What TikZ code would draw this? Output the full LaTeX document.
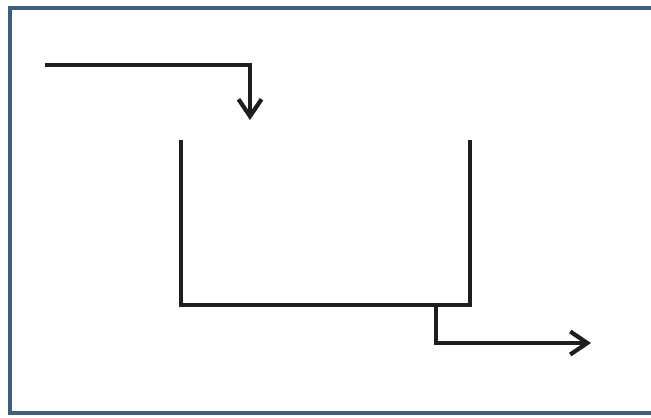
\documentclass[tikz,border=0pt]{standalone}
\usepackage{tikz}
\usetikzlibrary{arrows.meta, positioning}
\definecolor{framesteel}{HTML}{3F607C}
\definecolor{pipeblack}{HTML}{1E1E1E}

\begin{document}
\begin{tikzpicture}[
  x=0.02cm, y=-0.02cm,
  pipe/.style={
    draw=pipeblack, line width=2.4pt, line join=miter,
  },
  flow/.style={
    pipe, -{Straight Barb[length=3.4mm, width=4.6mm, line width=2.4pt]},
  },
]
  \useasboundingbox (0,0) rectangle (651,417);

  % Frame
  \draw[framesteel, line width=2.2pt] (651,8) -- (10,8) -- (10,413) -- (651,413);

  % Inlet
  \coordinate (inStart) at (45,65);
  \coordinate (inBend) at (250,65);
  \coordinate (inEnd) at (250,120);
  \draw[flow] (inStart) -- (inBend) -- (inEnd);

  % Tank
  \coordinate (tankTL) at (181,140);
  \coordinate (tankBL) at (181,305);
  \coordinate (tankBR) at (470,305);
  \coordinate (tankTR) at (470,140);
  \draw[pipe] (tankTL) -- (tankBL) -- (tankBR) -- (tankTR);

  % Outlet
  \coordinate (outStart) at (436,305);
  \coordinate (outBend) at (436,343);
  \coordinate (outEnd) at (591,343);
  \draw[flow] (outStart) -- (outBend) -- (outEnd);

\end{tikzpicture}
\end{document}
